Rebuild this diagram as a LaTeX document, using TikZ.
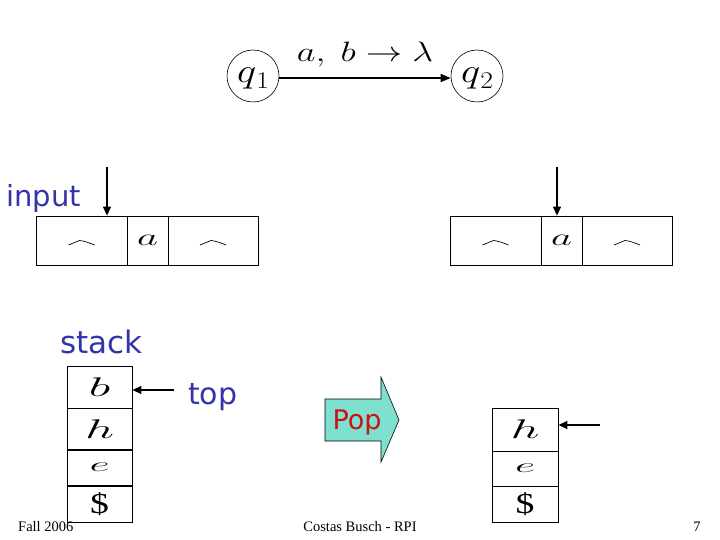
\RequirePackage{fix-cm}
\documentclass[tikz,border=0pt]{standalone}
\usepackage{graphicx}
\usepackage{fontspec}
\setsansfont{DejaVu Sans}
\setmainfont{Liberation Serif}
\usetikzlibrary{arrows.meta}
\definecolor{bluetxt}{RGB}{51,51,170}
\definecolor{redtxt}{RGB}{204,17,17}
\definecolor{popfill}{RGB}{127,224,208}
\newcommand{\wideglyph}[2]{\scalebox{#1}[1]{#2}}
\tikzset{
  cell/.style={draw, line width=0.8pt, inner sep=0pt},
  state/.style={draw, circle, line width=0.6pt, minimum size=52pt, inner sep=0pt, text height=14pt, text depth=1pt},
  arr/.style={line width=1.3pt, -{Triangle[length=9pt,width=8pt]}},
  bluelabel/.style={text=bluetxt, font=\sffamily\fontsize{30}{30}\selectfont, inner sep=0pt},
  foot/.style={font=\fontsize{14.5}{14.5}\selectfont, inner sep=0pt},
  tapehat/.pic={\draw[line width=0.7pt] (-13,2) -- (-2,-2.5) .. controls (3,-2) and (8,0) .. (13,2);}
}
\begin{document}
\begin{tikzpicture}[x=1pt,y=-1pt]
\useasboundingbox (0,0) rectangle (720,540);
% states
\node[state] (q1) at (253,76) {\wideglyph{1.2}{\fontsize{34}{34}\selectfont$q$}\raisebox{-6pt}{\wideglyph{1.15}{\fontsize{24}{24}\selectfont$1$}}};
\node[state] (q2) at (477,76) {\wideglyph{1.2}{\fontsize{34}{34}\selectfont$q$}\raisebox{-6pt}{\wideglyph{1.15}{\fontsize{24}{24}\selectfont$2$}}};
\draw[line width=1.5pt, -{Triangle[length=10pt,width=8pt]}] (q1.east |- 0,78) coordinate (qa) -- (q2.west |- 0,78) coordinate (qb);
\node[anchor=base, inner sep=0pt] (lab) at (365,62) {\wideglyph{1.3}{\fontsize{28}{28}\selectfont$a,\ b\to\lambda$}};
% input label
\node[bluelabel, anchor=west, font=\sffamily\fontsize{29}{29}\selectfont] (input) at (6,198) {input};
% left tape
\node[cell, minimum width=91pt, minimum height=49pt] (la) at (81.5,240.5) {};
\node[cell, minimum width=41pt, minimum height=49pt] (lb) at (147.5,240.5) {\wideglyph{1.7}{\fontsize{24}{24}\selectfont$a$}};
\node[cell, minimum width=90pt, minimum height=49pt] (lc) at (213,240.5) {};
\pic at (81.5,243) {tapehat};
\pic at (213,243) {tapehat};
\coordinate (lin) at (107,167);
\draw[arr] (lin) -- (lin |- la.north);
% right tape
\node[cell, minimum width=91pt, minimum height=49pt] (ra) at (495.5,240.5) {};
\node[cell, minimum width=41pt, minimum height=49pt] (rb) at (561.5,240.5) {\wideglyph{1.7}{\fontsize{24}{24}\selectfont$a$}};
\node[cell, minimum width=90pt, minimum height=49pt] (rc) at (627,240.5) {};
\pic at (495.5,243) {tapehat};
\pic at (627,243) {tapehat};
\coordinate (rin) at (557,167);
\draw[arr] (rin) -- (rin |- ra.north);
% stack label
\node[bluelabel, anchor=west, font=\sffamily\fontsize{31}{31}\selectfont] (stack) at (60,342) {stack};
% left stack
\node[cell, minimum width=65pt, minimum height=42pt] (s1) at (99.5,387) {\wideglyph{1.9}{\fontsize{27}{27}\selectfont$b$}};
\node[cell, minimum width=65pt, minimum height=42pt] (s2) at (99.5,429) {\wideglyph{1.9}{\fontsize{27}{27}\selectfont$h$}};
\node[cell, minimum width=65pt, minimum height=36pt] (s3) at (99.5,467) {\wideglyph{2.2}{\fontsize{20}{20}\selectfont$e$}};
\node[cell, minimum width=65pt, minimum height=36pt] (s4) at (99.5,504) {\wideglyph{1.3}{\fontsize{29}{29}\selectfont\$}};
\coordinate (ltop) at (174,390);
\draw[arr] (ltop) -- (s1.east |- ltop);
\node[bluelabel, anchor=west] (top) at (188,397) {top};
% Pop arrow
\draw[line width=0.6pt, fill=popfill] (325,399) -- (381,399) -- (381,377) -- (399,420) -- (381,462) -- (381,441) -- (325,441) -- cycle;
\node[text=redtxt, font=\sffamily\fontsize{27}{27}\selectfont, inner sep=0pt] (pop) at (357,422) {Pop};
% right stack
\node[cell, minimum width=66pt, minimum height=43pt] (r1) at (525,429.5) {\wideglyph{1.9}{\fontsize{27}{27}\selectfont$h$}};
\node[cell, minimum width=66pt, minimum height=35pt] (r2) at (525,468.5) {\wideglyph{2.2}{\fontsize{20}{20}\selectfont$e$}};
\node[cell, minimum width=66pt, minimum height=36pt] (r3) at (525,504) {\wideglyph{1.3}{\fontsize{29}{29}\selectfont\$}};
\coordinate (rtop) at (600,425);
\draw[arr] (rtop) -- (r1.east |- rtop);
% footer
\node[foot, anchor=west] (fall) at (18,527) {Fall 2006};
\node[foot] (cb) at (360,527) {Costas Busch - RPI};
\node[foot] (pg) at (697,527) {7};
\end{tikzpicture}
\end{document}
